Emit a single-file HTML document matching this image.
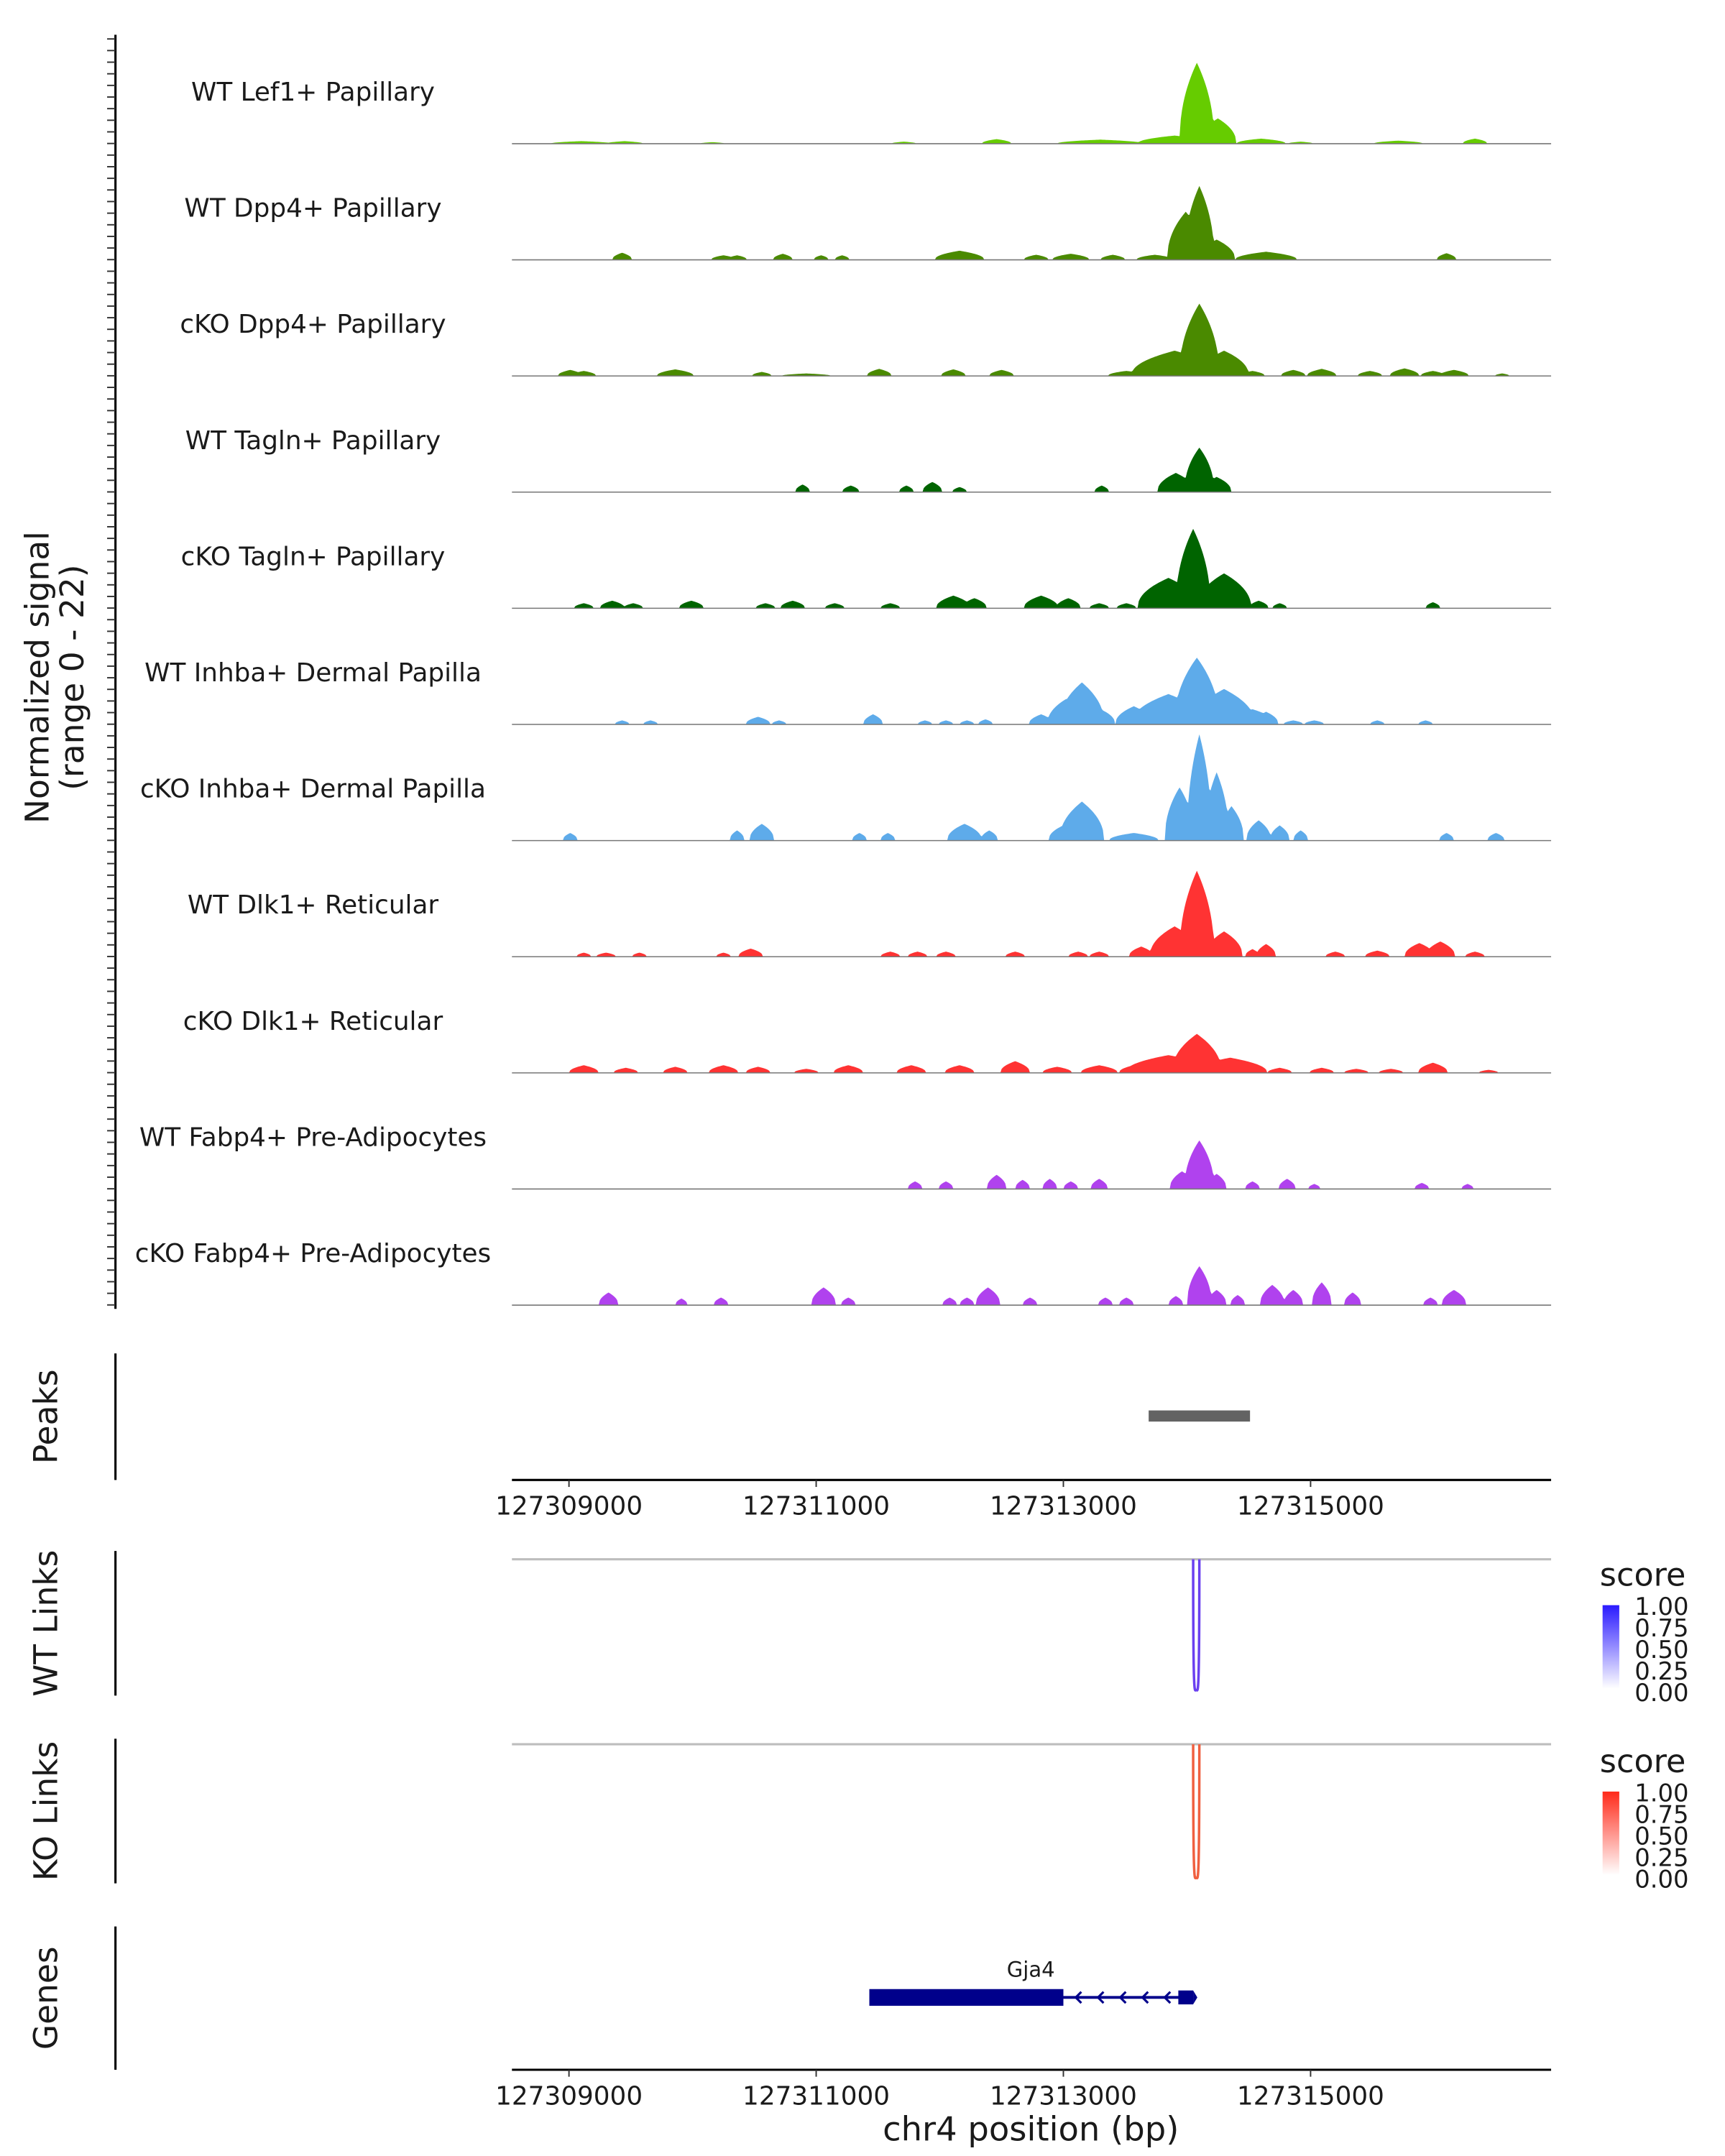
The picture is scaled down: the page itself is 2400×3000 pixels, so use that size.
<!DOCTYPE html>
<html><head><meta charset="utf-8"><style>
html,body{margin:0;padding:0;background:#fff}
svg{display:block}
text{font-family:"DejaVu Sans","Liberation Sans",sans-serif;fill:#1a1a1a}
</style></head><body>
<svg id="chart" xmlns="http://www.w3.org/2000/svg" width="2400" height="3000" viewBox="0 0 1240 1550">
<g id="tracks"></g>
<g id="axes"></g>
</svg>
<script>
// ---- data (positions in kb offset from 127309000, heights in normalized signal, half-width kb) ----
const trackNames = ["WT Lef1+ Papillary","WT Dpp4+ Papillary","cKO Dpp4+ Papillary","WT Tagln+ Papillary","cKO Tagln+ Papillary","WT Inhba+ Dermal Papilla","cKO Inhba+ Dermal Papilla","WT Dlk1+ Reticular","cKO Dlk1+ Reticular","WT Fabp4+ Pre-Adipocytes","cKO Fabp4+ Pre-Adipocytes"];
const trackColors = ["#66cc00","#4a8a00","#4a8a00","#006400","#006400","#5eabea","#5eabea","#ff3333","#ff3333","#b042ee","#b042ee"];
const wtLef1 = [[0.1,0.5,0.25],[0.45,0.5,0.15],[1.16,0.3,0.1],[2.71,0.4,0.1],[3.46,0.9,0.12],[4.3,0.8,0.35],[4.9,1.6,0.3],[5.08,16,0.14],[5.25,5,0.15],[5.6,1,0.2],[5.92,0.4,0.1],[6.71,0.6,0.2],[7.33,1,0.1]];
const wtDpp4 = [[0.43,1.4,0.08],[1.25,0.9,0.1],[1.36,0.9,0.08],[1.73,1.2,0.08],[2.04,0.9,0.06],[2.21,0.9,0.06],[3.16,1.8,0.2],[3.78,1,0.1],[4.06,1.2,0.15],[4.4,1,0.1],[4.74,1,0.15],[4.99,9.5,0.15],[5.1,14.6,0.12],[5.24,4,0.15],[5.64,1.6,0.25],[7.1,1.3,0.08]];
const koDpp4 = [[0.01,1.2,0.1],[0.12,1,0.1],[0.86,1.3,0.15],[1.56,0.8,0.08],[1.92,0.5,0.2],[2.51,1.4,0.1],[3.11,1.3,0.1],[3.5,1.2,0.1],[4.51,1,0.15],[4.9,5,0.35],[5.1,14.3,0.16],[5.3,5,0.2],[5.53,1,0.1],[5.86,1.2,0.1],[6.09,1.4,0.12],[6.48,1,0.1],[6.76,1.5,0.12],[6.99,1,0.1],[7.16,1.2,0.12],[7.55,0.5,0.06]];
const wtTagln = [[1.89,1.5,0.06],[2.28,1.3,0.07],[2.73,1.3,0.06],[2.94,2,0.08],[3.16,1,0.06],[4.31,1.3,0.06],[4.91,3.8,0.15],[5.1,8.8,0.12],[5.24,3,0.12]];
const koTagln = [[0.12,1,0.08],[0.35,1.5,0.1],[0.52,1,0.08],[0.99,1.5,0.1],[1.59,1,0.08],[1.81,1.5,0.1],[2.15,1,0.08],[2.6,1,0.08],[3.11,2.5,0.14],[3.28,2,0.1],[3.82,2.5,0.14],[4.04,2,0.1],[4.29,1,0.08],[4.51,1,0.08],[4.85,6,0.25],[5.05,15.7,0.14],[5.3,6.9,0.22],[5.58,1.5,0.08],[5.75,1,0.06],[6.99,1.2,0.06]];
const wtInhba = [[0.43,0.8,0.06],[0.66,0.8,0.06],[1.53,1.5,0.1],[1.7,0.8,0.06],[2.46,2,0.08],[2.88,0.8,0.06],[3.05,0.8,0.06],[3.22,0.8,0.06],[3.37,1,0.06],[3.82,2,0.1],[4.02,5,0.15],[4.15,8.3,0.18],[4.3,3,0.12],[4.57,3.6,0.15],[4.85,6,0.3],[5.08,13.2,0.18],[5.3,7,0.25],[5.53,3,0.18],[5.64,2.5,0.1],[5.86,0.8,0.08],[6.03,0.8,0.08],[6.54,0.8,0.06],[6.93,0.8,0.06]];
const koInhba = [[0.01,1.5,0.06],[1.36,2,0.06],[1.56,3.3,0.1],[2.35,1.5,0.06],[2.58,1.5,0.06],[3.2,3.3,0.14],[3.4,2,0.07],[4.0,3,0.12],[4.15,7.7,0.18],[4.57,1.5,0.2],[4.94,10.5,0.12],[5.1,21,0.1],[5.24,13.5,0.1],[5.36,6.8,0.1],[5.58,4,0.1],[5.75,3,0.08],[5.92,2,0.06],[7.1,1.5,0.06],[7.5,1.5,0.07]];
const wtDlk1 = [[0.12,0.8,0.06],[0.3,0.8,0.08],[0.57,0.8,0.06],[1.25,0.8,0.06],[1.47,1.6,0.1],[2.6,1,0.08],[2.82,1,0.08],[3.05,1,0.08],[3.61,1,0.08],[4.12,1,0.08],[4.29,1,0.08],[4.63,2,0.1],[4.9,6,0.2],[5.08,17,0.14],[5.3,5,0.15],[5.53,1.5,0.06],[5.64,2.5,0.08],[6.2,1,0.08],[6.54,1.2,0.1],[6.88,2.7,0.12],[7.05,3,0.12],[7.33,1,0.08]];
const koDlk1 = [[0.12,1.5,0.12],[0.46,1,0.1],[0.86,1.2,0.1],[1.25,1.5,0.12],[1.53,1.2,0.1],[1.92,0.8,0.1],[2.26,1.5,0.12],[2.77,1.5,0.12],[3.16,1.5,0.12],[3.61,2.3,0.12],[3.95,1.2,0.12],[4.29,1.5,0.15],[4.57,1.5,0.12],[4.85,3.5,0.35],[5.08,7.7,0.2],[5.35,3,0.3],[5.75,1,0.1],[6.09,1,0.1],[6.37,0.8,0.1],[6.65,0.8,0.1],[6.99,2,0.12],[7.44,0.6,0.08]];
const wtFabp4 = [[2.8,1.5,0.06],[3.05,1.5,0.06],[3.46,2.8,0.08],[3.67,1.8,0.06],[3.89,2,0.06],[4.06,1.5,0.06],[4.29,2,0.07],[4.96,3.5,0.1],[5.1,9.6,0.12],[5.24,3,0.08],[5.53,1.5,0.06],[5.81,2,0.07],[6.03,1,0.05],[6.9,1.2,0.06],[7.27,1,0.05]];
const koFabp4 = [[0.32,2.5,0.08],[0.91,1.3,0.05],[1.23,1.5,0.06],[2.06,3.5,0.1],[2.26,1.5,0.06],[3.08,1.5,0.06],[3.22,1.5,0.06],[3.39,3.5,0.1],[3.73,1.5,0.06],[4.34,1.5,0.06],[4.51,1.5,0.06],[4.91,1.8,0.06],[5.1,7.7,0.1],[5.24,3,0.08],[5.41,2,0.06],[5.69,4,0.1],[5.86,3,0.08],[6.09,4.5,0.08],[6.34,2.5,0.07],[6.97,1.5,0.06],[7.16,3,0.1]];
const trackData = [wtLef1,wtDpp4,koDpp4,wtTagln,koTagln,wtInhba,koInhba,wtDlk1,koDlk1,wtFabp4,koFabp4];
const xTicks = [127309000,127311000,127313000,127315000];
const peakRegion = [4.69,5.51];
const geneExon = [2.43,4.0];
const geneEnd = [4.93,5.05];
const wtLink = [5.05,5.10,1.0];
const koLink = [5.05,5.10,1.0];
const legendTicks = ["1.00","0.75","0.50","0.25","0.00"];

// ---- scales ----
const X0 = 368, X1 = 1115, KB0 = -0.4615, KB1 = 7.946;
const xs = kb => X0 + (kb - KB0) / (KB1 - KB0) * (X1 - X0);
const bpToKb = bp => (bp - 127309000) / 1000;
const yMaxSig = 22, trackH = 80;
const baselines = i => 103.3 + i * 83.5;
const ys = (v, i) => baselines(i) - v / yMaxSig * trackH;
const NS = "http://www.w3.org/2000/svg";
function mk(tag, attrs, parent, text) {
  const e = document.createElementNS(NS, tag);
  for (const k in attrs) e.setAttribute(k, attrs[k]);
  if (text !== undefined) e.textContent = text;
  parent.appendChild(e); return e;
}
const T = document.getElementById('tracks');
const A = document.getElementById('axes');

trackData.forEach((peaks, i) => {
  const g = mk('g', {}, T);
  
  
  const lab = mk('text', {x: 225, y: baselines(i) - 31, 'text-anchor': 'middle', 'font-size': 18.5}, g, trackNames[i]);
  
  
  let lo = Infinity, hi = -Infinity;
  peaks.forEach(p => { lo = Math.min(lo, p[0] - p[2]); hi = Math.max(hi, p[0] + p[2]); });
  let d = 'M' + xs(lo).toFixed(2) + ',' + baselines(i);
  for (let k = lo; k <= hi + 1e-9; k += 0.01) {
    let v = 0;
    peaks.forEach(p => { const t = 1 - Math.abs(k - p[0]) / p[2]; if (t > 0) v = Math.max(v, p[1] * Math.pow(t, 0.45)); });
    d += 'L' + xs(k).toFixed(2) + ',' + ys(v, i).toFixed(2);
  }
  d += 'L' + xs(hi).toFixed(2) + ',' + baselines(i) + 'Z';
  const area = mk('path', {d: d, fill: trackColors[i]}, g);
  
  
  const bl = mk('line', {x1: X0, x2: X1, y1: baselines(i), y2: baselines(i), stroke: '#777', 'stroke-width': 0.8}, g);
  
  
});

// left y axis with ticks
const yax = mk('line', {x1: 83, x2: 83, y1: 25, y2: 941, stroke: '#000', 'stroke-width': 1.6}, A);


for (let y = 28; y <= 941; y += 8.35) mk('line', {x1: 77, x2: 83, y1: y, y2: y, stroke: '#333', 'stroke-width': 1}, A);
const yt = mk('text', {transform: 'translate(40,487) rotate(-90)', 'text-anchor': 'middle', 'font-size': 23.5}, A);


mk('tspan', {x: 0, dy: -5}, yt, 'Normalized signal');
mk('tspan', {x: 0, dy: 25}, yt, '(range 0 - 22)');

function panelAxis(y1, y2, label, name) {
  const l = mk('line', {x1: 83, x2: 83, y1: y1, y2: y2, stroke: '#000', 'stroke-width': 1.6}, A);
  
  
  const t = mk('text', {transform: 'translate(41,' + (y1 + y2) / 2 + ') rotate(-90)', 'text-anchor': 'middle', 'font-size': 23.5}, A, label);
  
  
}
panelAxis(973, 1064, 'Peaks', 'peaks');
panelAxis(1115, 1219, 'WT Links', 'wt-links');
panelAxis(1250, 1354, 'KO Links', 'ko-links');
panelAxis(1385, 1488, 'Genes', 'genes');

// peaks
const pk = mk('rect', {x: xs(peakRegion[0]), y: 1014, width: xs(peakRegion[1]) - xs(peakRegion[0]), height: 8, fill: '#636363'}, A);



function xAxis(y, name) {
  const l = mk('line', {x1: X0, x2: X1, y1: y, y2: y, stroke: '#000', 'stroke-width': 1.6}, A);
  
  
  xTicks.forEach(t => {
    const x = xs(bpToKb(t));
    mk('line', {x1: x, x2: x, y1: y, y2: y + 5, stroke: '#333', 'stroke-width': 1}, A);
    const tl = mk('text', {x: x, y: y + 25, 'text-anchor': 'middle', 'font-size': 18.5, fill: '#4d4d4d'}, A, String(t));
    
    
  });
}
xAxis(1064, 'peaks-x-axis');
xAxis(1488, 'genes-x-axis');
const xt = mk('text', {x: 741, y: 1539, 'text-anchor': 'middle', 'font-size': 24}, A, 'chr4 position (bp)');



// links
function links(y0, y1, link, color, gid, top, name) {
  const g = mk('line', {x1: X0, x2: X1, y1: y0, y2: y0, stroke: '#bdbdbd', 'stroke-width': 1.6}, A);
  
  
  const a = xs(link[0]), b = xs(link[1]), m = (a + b) / 2;
  const p = mk('path', {d: `M${a},${y0} C${a},${y1 + 10} ${a + 1},${y1} ${m},${y1} C${b - 1},${y1} ${b},${y1 + 10} ${b},${y0}`, fill: 'none', stroke: color, 'stroke-width': 1.8}, A);
  
  
  const defs = mk('defs', {}, A);
  const lg = mk('linearGradient', {id: gid, x1: 0, y1: 1, x2: 0, y2: 0}, defs);
  mk('stop', {offset: 0, 'stop-color': '#ffffff'}, lg);
  mk('stop', {offset: 1, 'stop-color': color === '#6a40f0' ? '#2a1aff' : '#ff2a1a'}, lg);
  const lt = mk('text', {x: 1150, y: top, 'font-size': 23}, A, 'score');
  
  
  const r = mk('rect', {x: 1152, y: top + 14, width: 12, height: 60, fill: `url(#${gid})`}, A);
  
  
  legendTicks.forEach((s, k) => {
    const yy = top + 15 + k * 15.5;
    const t = mk('text', {x: 1175, y: yy + 6, 'font-size': 17.5}, A, s);
    
    
  });
}
links(1121, 1215, wtLink, '#6a40f0', 'gwt', 1140, 'wt-links');
links(1254, 1350, koLink, '#f06040', 'gko', 1274, 'ko-links');

// gene
const gn = mk('text', {x: 741, y: 1421, 'text-anchor': 'middle', 'font-size': 15}, A, 'Gja4');


const ex = mk('rect', {x: xs(geneExon[0]), y: 1430, width: xs(geneExon[1]) - xs(geneExon[0]), height: 12, fill: '#00008b'}, A);


const intr = mk('line', {x1: xs(geneExon[1]), x2: xs(geneEnd[1]), y1: 1436, y2: 1436, stroke: '#00008b', 'stroke-width': 2}, A);


for (let k = geneExon[1] + 0.1; k < geneEnd[0]; k += 0.18) {
  const x = xs(k);
  mk('path', {d: `M${x + 4},${1432} L${x},${1436} L${x + 4},${1440}`, fill: 'none', stroke: '#00008b', 'stroke-width': 1.6}, A);
}
const ex2 = mk('rect', {x: xs(geneEnd[0]), y: 1431, width: xs(geneEnd[1]) - xs(geneEnd[0]), height: 10, fill: '#00008b'}, A);


mk('path', {d: `M${xs(geneEnd[1])},1431 L${xs(geneEnd[1]) + 3},1436 L${xs(geneEnd[1])},1441Z`, fill: '#00008b'}, A);
</script>
</body></html>
